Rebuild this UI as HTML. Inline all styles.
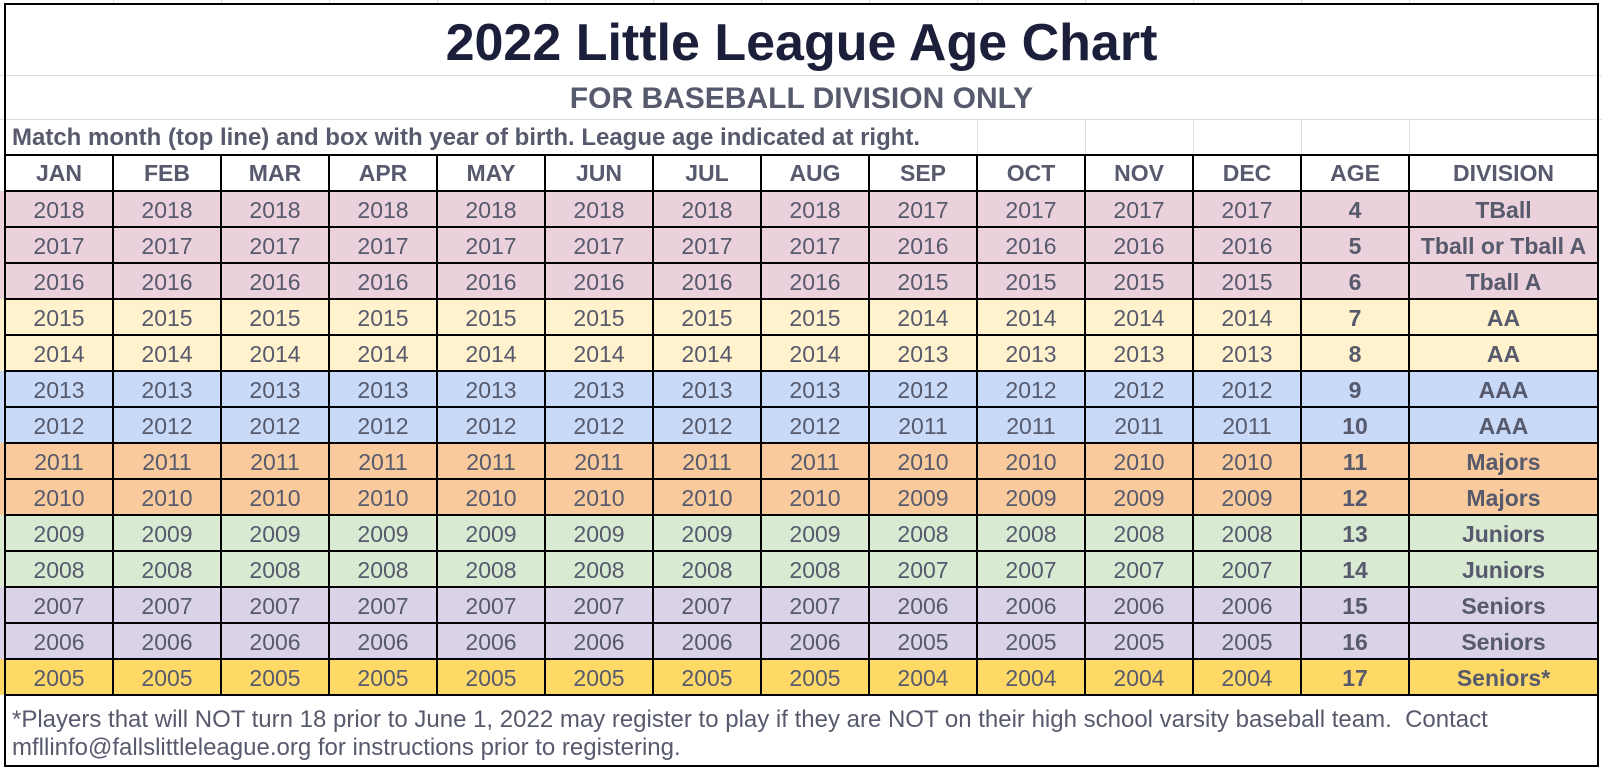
<!DOCTYPE html>
<html>
<head>
<meta charset="utf-8">
<style>
html,body{margin:0;padding:0;background:#fff;}
#c{position:relative;width:1602px;height:768px;background:#fff;overflow:hidden;font-family:"Liberation Sans",Arial,sans-serif;color:#575a6d;}
.t{position:absolute;white-space:nowrap;}
.r{position:absolute;left:0;width:1599px;height:36px;display:flex;}
.sp{flex:none;width:5px;}
.c{flex:none;width:108px;text-align:center;line-height:36px;font-size:23px;white-space:nowrap;}
.r.x .c,.r.x .d{padding-top:1px;}
.d{flex:none;width:189px;text-align:center;line-height:36px;font-size:23px;white-space:nowrap;font-weight:bold;}
.b{font-weight:bold;}
.k{position:absolute;background:#000;}
.g{position:absolute;background:#dcdcdc;}
.p{background:#ead1dc;}
.y{background:#fff2cc;}
.bl{background:#c9daf8;}
.o{background:#f9cb9c;}
.gr{background:#d9ead3;}
.l{background:#d9d2e9;}
.go{background:#ffd966;}
</style>
</head>
<body>
<div id="c">
<!-- grey gridlines -->
<div class="g" style="left:0;top:75px;width:1602px;height:1px"></div>
<div class="g" style="left:0;top:119px;width:1602px;height:1px"></div>
<div class="g" style="left:977px;top:119px;width:1px;height:36px"></div>
<div class="g" style="left:1085px;top:119px;width:1px;height:36px"></div>
<div class="g" style="left:1193px;top:119px;width:1px;height:36px"></div>
<div class="g" style="left:1301px;top:119px;width:1px;height:36px"></div>
<div class="g" style="left:1409px;top:119px;width:1px;height:36px"></div>
<div class="g" style="left:113px;top:0;width:1px;height:4px"></div>
<div class="g" style="left:221px;top:0;width:1px;height:4px"></div>
<div class="g" style="left:329px;top:0;width:1px;height:4px"></div>
<div class="g" style="left:437px;top:0;width:1px;height:4px"></div>
<div class="g" style="left:545px;top:0;width:1px;height:4px"></div>
<div class="g" style="left:653px;top:0;width:1px;height:4px"></div>
<div class="g" style="left:761px;top:0;width:1px;height:4px"></div>
<div class="g" style="left:869px;top:0;width:1px;height:4px"></div>
<div class="g" style="left:977px;top:0;width:1px;height:4px"></div>
<div class="g" style="left:1085px;top:0;width:1px;height:4px"></div>
<div class="g" style="left:1193px;top:0;width:1px;height:4px"></div>
<div class="g" style="left:1301px;top:0;width:1px;height:4px"></div>
<div class="g" style="left:1409px;top:0;width:1px;height:4px"></div>

<!-- titles -->
<div class="t b" style="left:5px;width:1593px;top:8px;line-height:71px;font-size:52px;text-align:center;color:#1c1f3a;">2022 Little League Age Chart</div>
<div class="t b" style="left:5px;width:1593px;top:77px;line-height:44px;font-size:30px;text-align:center;">FOR BASEBALL DIVISION ONLY</div>
<div class="t b" style="left:12px;top:120px;line-height:36px;font-size:24px;">Match month (top line) and box with year of birth. League age indicated at right.</div>

<!-- header -->
<div class="r" style="top:155px;"><div class="sp"></div>
<div class="c b">JAN</div><div class="c b">FEB</div><div class="c b">MAR</div><div class="c b">APR</div><div class="c b">MAY</div><div class="c b">JUN</div><div class="c b">JUL</div><div class="c b">AUG</div><div class="c b">SEP</div><div class="c b">OCT</div><div class="c b">NOV</div><div class="c b">DEC</div><div class="c b">AGE</div><div class="d">DIVISION</div></div>

<div class="r x p" style="top:191px;"><div class="sp"></div>
<div class="c">2018</div><div class="c">2018</div><div class="c">2018</div><div class="c">2018</div><div class="c">2018</div><div class="c">2018</div><div class="c">2018</div><div class="c">2018</div><div class="c">2017</div><div class="c">2017</div><div class="c">2017</div><div class="c">2017</div><div class="c b">4</div><div class="d">TBall</div></div>

<div class="r x p" style="top:227px;"><div class="sp"></div>
<div class="c">2017</div><div class="c">2017</div><div class="c">2017</div><div class="c">2017</div><div class="c">2017</div><div class="c">2017</div><div class="c">2017</div><div class="c">2017</div><div class="c">2016</div><div class="c">2016</div><div class="c">2016</div><div class="c">2016</div><div class="c b">5</div><div class="d">Tball or Tball A</div></div>

<div class="r x p" style="top:263px;"><div class="sp"></div>
<div class="c">2016</div><div class="c">2016</div><div class="c">2016</div><div class="c">2016</div><div class="c">2016</div><div class="c">2016</div><div class="c">2016</div><div class="c">2016</div><div class="c">2015</div><div class="c">2015</div><div class="c">2015</div><div class="c">2015</div><div class="c b">6</div><div class="d">Tball A</div></div>

<div class="r x y" style="top:299px;"><div class="sp"></div>
<div class="c">2015</div><div class="c">2015</div><div class="c">2015</div><div class="c">2015</div><div class="c">2015</div><div class="c">2015</div><div class="c">2015</div><div class="c">2015</div><div class="c">2014</div><div class="c">2014</div><div class="c">2014</div><div class="c">2014</div><div class="c b">7</div><div class="d">AA</div></div>

<div class="r x y" style="top:335px;"><div class="sp"></div>
<div class="c">2014</div><div class="c">2014</div><div class="c">2014</div><div class="c">2014</div><div class="c">2014</div><div class="c">2014</div><div class="c">2014</div><div class="c">2014</div><div class="c">2013</div><div class="c">2013</div><div class="c">2013</div><div class="c">2013</div><div class="c b">8</div><div class="d">AA</div></div>

<div class="r x bl" style="top:371px;"><div class="sp"></div>
<div class="c">2013</div><div class="c">2013</div><div class="c">2013</div><div class="c">2013</div><div class="c">2013</div><div class="c">2013</div><div class="c">2013</div><div class="c">2013</div><div class="c">2012</div><div class="c">2012</div><div class="c">2012</div><div class="c">2012</div><div class="c b">9</div><div class="d">AAA</div></div>

<div class="r x bl" style="top:407px;"><div class="sp"></div>
<div class="c">2012</div><div class="c">2012</div><div class="c">2012</div><div class="c">2012</div><div class="c">2012</div><div class="c">2012</div><div class="c">2012</div><div class="c">2012</div><div class="c">2011</div><div class="c">2011</div><div class="c">2011</div><div class="c">2011</div><div class="c b">10</div><div class="d">AAA</div></div>

<div class="r x o" style="top:443px;"><div class="sp"></div>
<div class="c">2011</div><div class="c">2011</div><div class="c">2011</div><div class="c">2011</div><div class="c">2011</div><div class="c">2011</div><div class="c">2011</div><div class="c">2011</div><div class="c">2010</div><div class="c">2010</div><div class="c">2010</div><div class="c">2010</div><div class="c b">11</div><div class="d">Majors</div></div>

<div class="r x o" style="top:479px;"><div class="sp"></div>
<div class="c">2010</div><div class="c">2010</div><div class="c">2010</div><div class="c">2010</div><div class="c">2010</div><div class="c">2010</div><div class="c">2010</div><div class="c">2010</div><div class="c">2009</div><div class="c">2009</div><div class="c">2009</div><div class="c">2009</div><div class="c b">12</div><div class="d">Majors</div></div>

<div class="r x gr" style="top:515px;"><div class="sp"></div>
<div class="c">2009</div><div class="c">2009</div><div class="c">2009</div><div class="c">2009</div><div class="c">2009</div><div class="c">2009</div><div class="c">2009</div><div class="c">2009</div><div class="c">2008</div><div class="c">2008</div><div class="c">2008</div><div class="c">2008</div><div class="c b">13</div><div class="d">Juniors</div></div>

<div class="r x gr" style="top:551px;"><div class="sp"></div>
<div class="c">2008</div><div class="c">2008</div><div class="c">2008</div><div class="c">2008</div><div class="c">2008</div><div class="c">2008</div><div class="c">2008</div><div class="c">2008</div><div class="c">2007</div><div class="c">2007</div><div class="c">2007</div><div class="c">2007</div><div class="c b">14</div><div class="d">Juniors</div></div>

<div class="r x l" style="top:587px;"><div class="sp"></div>
<div class="c">2007</div><div class="c">2007</div><div class="c">2007</div><div class="c">2007</div><div class="c">2007</div><div class="c">2007</div><div class="c">2007</div><div class="c">2007</div><div class="c">2006</div><div class="c">2006</div><div class="c">2006</div><div class="c">2006</div><div class="c b">15</div><div class="d">Seniors</div></div>

<div class="r x l" style="top:623px;"><div class="sp"></div>
<div class="c">2006</div><div class="c">2006</div><div class="c">2006</div><div class="c">2006</div><div class="c">2006</div><div class="c">2006</div><div class="c">2006</div><div class="c">2006</div><div class="c">2005</div><div class="c">2005</div><div class="c">2005</div><div class="c">2005</div><div class="c b">16</div><div class="d">Seniors</div></div>

<div class="r x go" style="top:659px;"><div class="sp"></div>
<div class="c">2005</div><div class="c">2005</div><div class="c">2005</div><div class="c">2005</div><div class="c">2005</div><div class="c">2005</div><div class="c">2005</div><div class="c">2005</div><div class="c">2004</div><div class="c">2004</div><div class="c">2004</div><div class="c">2004</div><div class="c b">17</div><div class="d">Seniors*</div></div>

<!-- footnote -->
<div class="t" style="left:12px;top:706px;line-height:28px;font-size:24px;">*Players that will NOT turn 18 prior to June 1, 2022 may register to play if they are NOT on their high school varsity baseball team.&nbsp; Contact<br>mfllinfo@fallslittleleague.org for instructions prior to registering.</div>

<!-- black vertical lines in grid -->
<div class="k" style="left:112px;top:155px;width:2px;height:540px"></div>
<div class="k" style="left:220px;top:155px;width:2px;height:540px"></div>
<div class="k" style="left:328px;top:155px;width:2px;height:540px"></div>
<div class="k" style="left:436px;top:155px;width:2px;height:540px"></div>
<div class="k" style="left:544px;top:155px;width:2px;height:540px"></div>
<div class="k" style="left:652px;top:155px;width:2px;height:540px"></div>
<div class="k" style="left:760px;top:155px;width:2px;height:540px"></div>
<div class="k" style="left:868px;top:155px;width:2px;height:540px"></div>
<div class="k" style="left:976px;top:155px;width:2px;height:540px"></div>
<div class="k" style="left:1084px;top:155px;width:2px;height:540px"></div>
<div class="k" style="left:1192px;top:155px;width:2px;height:540px"></div>
<div class="k" style="left:1300px;top:155px;width:2px;height:540px"></div>
<div class="k" style="left:1408px;top:155px;width:2px;height:540px"></div>

<!-- black horizontal lines -->
<div class="k" style="left:4px;top:154px;width:1595px;height:2px"></div>
<div class="k" style="left:4px;top:190px;width:1595px;height:2px"></div>
<div class="k" style="left:4px;top:226px;width:1595px;height:2px"></div>
<div class="k" style="left:4px;top:262px;width:1595px;height:2px"></div>
<div class="k" style="left:4px;top:298px;width:1595px;height:2px"></div>
<div class="k" style="left:4px;top:334px;width:1595px;height:2px"></div>
<div class="k" style="left:4px;top:370px;width:1595px;height:2px"></div>
<div class="k" style="left:4px;top:406px;width:1595px;height:2px"></div>
<div class="k" style="left:4px;top:442px;width:1595px;height:2px"></div>
<div class="k" style="left:4px;top:478px;width:1595px;height:2px"></div>
<div class="k" style="left:4px;top:514px;width:1595px;height:2px"></div>
<div class="k" style="left:4px;top:550px;width:1595px;height:2px"></div>
<div class="k" style="left:4px;top:586px;width:1595px;height:2px"></div>
<div class="k" style="left:4px;top:622px;width:1595px;height:2px"></div>
<div class="k" style="left:4px;top:658px;width:1595px;height:2px"></div>
<div class="k" style="left:4px;top:694px;width:1595px;height:2px"></div>

<!-- outer border -->
<div class="k" style="left:4px;top:3px;width:1595px;height:2px"></div>
<div class="k" style="left:4px;top:765px;width:1595px;height:2px"></div>
<div class="k" style="left:4px;top:3px;width:2px;height:764px"></div>
<div class="k" style="left:1597px;top:3px;width:2px;height:764px"></div>
</div>
</body>
</html>
